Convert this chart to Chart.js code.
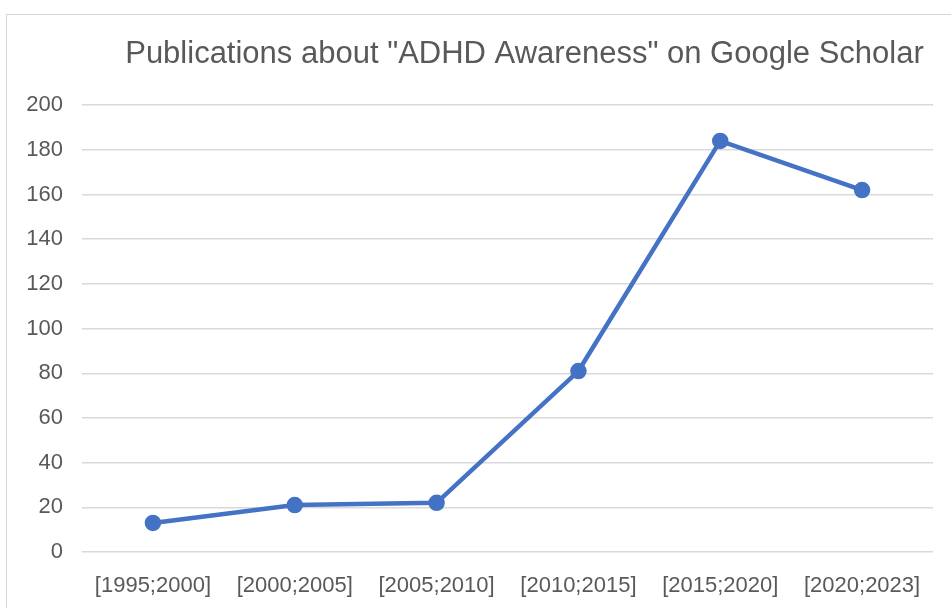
<!DOCTYPE html>
<html>
<head>
<meta charset="utf-8">
<script src="https://cdn.jsdelivr.net/npm/chart.js@4/dist/chart.umd.min.js"></script>
<style>
  html, body { margin: 0; padding: 0; background: #fff; overflow: hidden; }
  #wrap { position: relative; width: 951px; height: 608px; }
  #frame { position: absolute; left: 6px; top: 14px; width: 1000px; height: 700px; border: 1px solid #d6d6d6; box-sizing: border-box; }
  canvas { position: absolute; left: 0; top: 0; }
</style>
</head>
<body>
<div id="wrap">
  <div id="frame"></div>
  <canvas id="myChart" width="951" height="608"></canvas>
</div>
<script>
// data
var periods = ["[1995;2000]", "[2000;2005]", "[2005;2010]", "[2010;2015]", "[2015;2020]", "[2020;2023]"];
var publications = [13, 21, 22, 81, 184, 162];
var yTicks = [0, 20, 40, 60, 80, 100, 120, 140, 160, 180, 200];

var lineBlue = 'rgb(68, 114, 196)';
var textGrey = '#595959';
var fontFam = 'Liberation Sans, Arial, sans-serif';

var ctx = document.getElementById('myChart').getContext('2d');
var chart = new Chart(ctx, {
    type: 'line',
    data: {
        labels: periods,
        datasets: [{
            label: 'Publications',
            data: publications,
            borderColor: lineBlue,
            backgroundColor: lineBlue,
            borderWidth: 4.5,
            pointRadius: 6,
            pointHoverRadius: 6,
            tension: 0
        }]
    },
    options: {
        responsive: false,
        animation: false,
        layout: { padding: { top: 36, right: 18, bottom: 0, left: 0 } },
        plugins: {
            legend: { display: false },
            tooltip: { enabled: false },
            title: {
                display: true,
                text: 'Publications about "ADHD Awareness" on Google Scholar',
                color: textGrey,
                font: { family: fontFam, size: 31, weight: 'normal', lineHeight: 1.2 },
                padding: { top: 0, bottom: 32 },
                align: 'center'
            }
        },
        scales: {
            x: {
                offset: true,
                grid: { display: false },
                border: { display: false },
                ticks: {
                    color: textGrey,
                    padding: 13,
                    maxRotation: 0,
                    autoSkip: false,
                    font: { family: fontFam, size: 22 }
                },
                afterFit: function (scale) { scale.height = 56; }
            },
            y: {
                min: 0,
                max: 200,
                afterBuildTicks: function (scale) {
                    scale.ticks = yTicks.map(function (v) { return { value: v }; });
                },
                grid: { color: '#d9d9d9', lineWidth: 1.5, drawTicks: false },
                border: { display: false },
                ticks: {
                    color: textGrey,
                    padding: 19,
                    font: { family: fontFam, size: 22 }
                },
                afterFit: function (scale) { scale.width = 82; }
            }
        }
    },
    plugins: [{
        // title centred over the plot, a bit right of canvas centre
        id: 'titleShift',
        beforeDraw: function (c) {
            var t = c.titleBlock;
            if (t) { t.left = 98; t.right = 951; }
        }
    }]
});
</script>
</body>
</html>
